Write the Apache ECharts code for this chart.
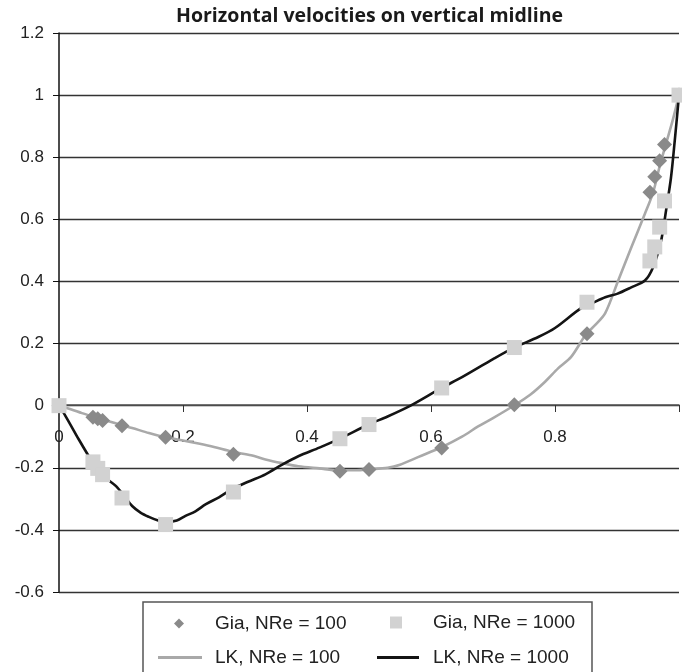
<!DOCTYPE html>
<html>
<head>
<meta charset="utf-8">
<script src="https://cdn.jsdelivr.net/npm/echarts@6/dist/echarts.min.js"></script>
<style>
html,body{margin:0;padding:0;background:#fff;}
#chart{width:682px;height:672px;}
</style>
</head>
<body>
<div id="chart"></div>
<script>
// Gia (Ghia) benchmark points
const giaX = [0, 0.0547, 0.0625, 0.0703, 0.1016, 0.1719, 0.2813, 0.4531, 0.5, 0.6172, 0.7344, 0.8516, 0.9531, 0.9609, 0.9688, 0.9766, 1];
const gia100 = [0, -0.03717, -0.04192, -0.04775, -0.06434, -0.10150, -0.15662, -0.21090, -0.20581, -0.13641, 0.00332, 0.23151, 0.68717, 0.73722, 0.78871, 0.84123, 1];
const gia1000 = [0, -0.18109, -0.20196, -0.22220, -0.29730, -0.38289, -0.27805, -0.10648, -0.06080, 0.05702, 0.18719, 0.33304, 0.46604, 0.51117, 0.57492, 0.65928, 1];

// LK curves
const lk100X = [0, 0.02, 0.037, 0.06, 0.08, 0.1, 0.118, 0.145, 0.172, 0.2, 0.225, 0.25, 0.279, 0.31, 0.333, 0.36, 0.386, 0.42, 0.45, 0.48, 0.5, 0.53, 0.55, 0.58, 0.617, 0.65, 0.676, 0.7, 0.736, 0.76, 0.784, 0.805, 0.826, 0.85, 0.865, 0.881, 0.902, 0.923, 0.945, 0.958, 0.97, 0.98, 0.99, 1];
const lk100Y = [0, -0.012, -0.024, -0.038, -0.05, -0.062, -0.072, -0.088, -0.102, -0.112, -0.122, -0.133, -0.148, -0.16, -0.173, -0.185, -0.195, -0.202, -0.208, -0.208, -0.205, -0.2, -0.19, -0.165, -0.134, -0.1, -0.067, -0.04, 0.003, 0.035, 0.077, 0.12, 0.157, 0.23, 0.26, 0.298, 0.403, 0.509, 0.618, 0.685, 0.78, 0.85, 0.92, 1];

const lk1000X = [0, 0.011, 0.032, 0.048, 0.064, 0.08, 0.092, 0.105, 0.118, 0.132, 0.145, 0.16, 0.172, 0.19, 0.204, 0.22, 0.237, 0.258, 0.279, 0.305, 0.333, 0.36, 0.386, 0.42, 0.453, 0.5, 0.53, 0.567, 0.617, 0.65, 0.7, 0.734, 0.773, 0.8, 0.842, 0.86, 0.881, 0.9, 0.923, 0.945, 0.958, 0.971, 0.979, 0.987, 0.993, 1];
const lk1000Y = [0, -0.035, -0.109, -0.163, -0.215, -0.24, -0.259, -0.29, -0.323, -0.345, -0.358, -0.37, -0.375, -0.37, -0.355, -0.34, -0.317, -0.295, -0.269, -0.245, -0.221, -0.19, -0.163, -0.135, -0.106, -0.06, -0.035, 0, 0.057, 0.092, 0.15, 0.187, 0.221, 0.25, 0.314, 0.33, 0.349, 0.36, 0.381, 0.403, 0.445, 0.53, 0.627, 0.733, 0.85, 1];

const seriesNames = ['Gia, NRe = 100', 'Gia, NRe = 1000', 'LK, NRe = 100', 'LK, NRe = 1000'];
const titleText = 'Horizontal velocities on vertical midline';

const zip = (xs, ys) => xs.map((x, i) => [x, ys[i]]);
const FONT = '"Liberation Sans", Arial, sans-serif';
const legendText = {fontFamily: FONT, fontSize: 19, color: '#222'};
const lt = pad => Object.assign({padding: [0, 0, 0, pad]}, legendText);

const chart = echarts.init(document.getElementById('chart'), null, {renderer: 'canvas'});
chart.setOption({
  animation: false,
  backgroundColor: '#fff',
  title: {
    text: titleText,
    left: 171, top: 1,
    textStyle: {fontFamily: '"Open Sans", sans-serif', fontWeight: 'bold', fontSize: 19.5, color: '#1a1a1a'}
  },
  grid: {left: 59, right: 1, top: 33, bottom: 80},
  xAxis: {
    type: 'value', min: 0, max: 1, interval: 0.2,
    position: 'bottom', offset: -187,
    axisLine: {onZero: false, lineStyle: {color: '#555', width: 1.5}},
    axisTick: {show: true, inside: false, length: 7, lineStyle: {color: '#333'}},
    axisLabel: {margin: 24, fontFamily: FONT, fontSize: 17, color: '#222',
      formatter: v => (v >= 1 ? '' : String(+v.toFixed(1)))},
    splitLine: {show: false}
  },
  yAxis: {
    type: 'value', min: -0.6, max: 1.2, interval: 0.2,
    axisLine: {show: true, onZero: false, lineStyle: {color: '#111', width: 1.5}},
    axisTick: {show: true, inside: false, length: 6, lineStyle: {color: '#111'}},
    axisLabel: {margin: 15, fontFamily: FONT, fontSize: 17, color: '#222',
      formatter: v => String(+v.toFixed(1))},
    splitLine: {show: true, lineStyle: {color: '#333', width: 1.3}}
  },
  legend: [
    {data: [{name: seriesNames[0], icon: 'diamond'}], left: 174, top: 614, padding: 0, itemWidth: 10, itemHeight: 10, textStyle: lt(26)},
    {data: [{name: seriesNames[1], icon: 'rect'}], left: 390, top: 613, padding: 0, itemWidth: 12, itemHeight: 12, textStyle: lt(26)},
    {data: [{name: seriesNames[2], icon: 'rect'}], left: 158, top: 648, padding: 0, itemWidth: 44, itemHeight: 3, textStyle: lt(8)},
    {data: [{name: seriesNames[3], icon: 'rect'}], left: 377, top: 648, padding: 0, itemWidth: 42, itemHeight: 3, textStyle: lt(9)}
  ],
  graphic: [{
    type: 'rect', z: -1, silent: true,
    shape: {x: 143, y: 602, width: 449, height: 90},
    style: {fill: '#fff', stroke: '#555', lineWidth: 1.5}
  }],
  series: [
    {name: seriesNames[2], type: 'line', data: zip(lk100X, lk100Y), smooth: 0.3, showSymbol: false, symbol: 'none',
     lineStyle: {color: '#a9a9a9', width: 2.6}, itemStyle: {color: '#a9a9a9'}, z: 2},
    {name: seriesNames[3], type: 'line', data: zip(lk1000X, lk1000Y), smooth: 0.3, showSymbol: false, symbol: 'none',
     lineStyle: {color: '#141414', width: 2.6}, itemStyle: {color: '#141414'}, z: 2},
    {name: seriesNames[0], type: 'scatter', data: zip(giaX, gia100), symbol: 'diamond', symbolSize: 15,
     itemStyle: {color: '#8a8a8a', opacity: 1}, z: 4},
    {name: seriesNames[1], type: 'scatter', data: zip(giaX, gia1000), symbol: 'rect', symbolSize: 15,
     itemStyle: {color: '#d2d2d2', opacity: 1}, z: 5}
  ]
});
</script>
</body>
</html>
